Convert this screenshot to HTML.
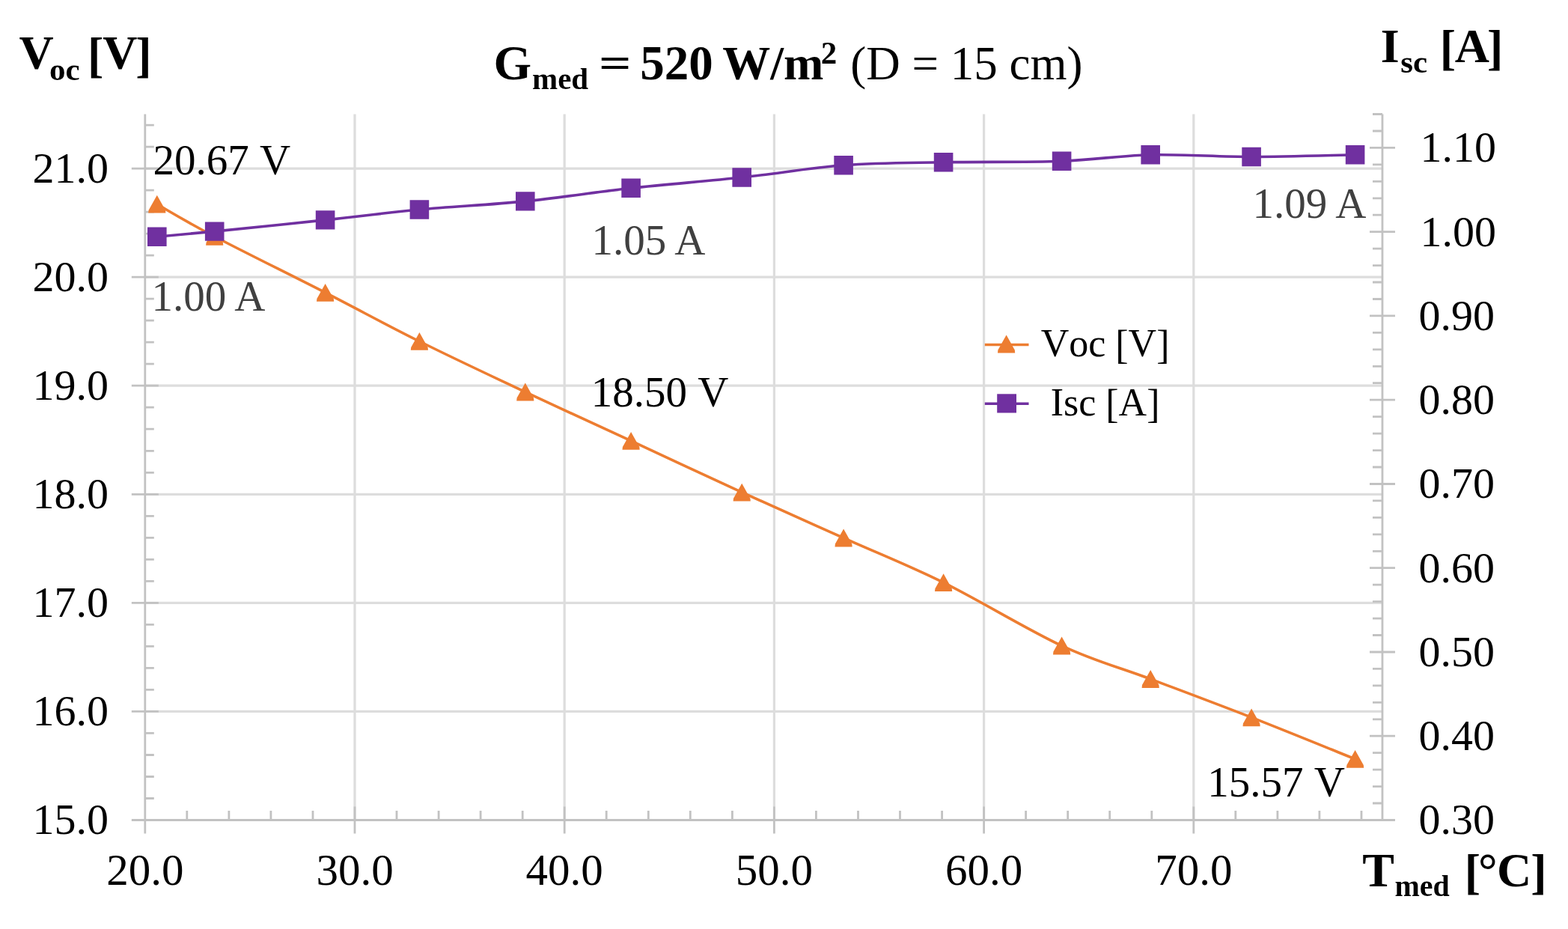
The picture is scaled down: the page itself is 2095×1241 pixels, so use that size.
<!DOCTYPE html><html><head><meta charset="utf-8"><title>Voc and Isc vs temperature</title><style>html,body{margin:0;padding:0;background:#fff;}svg{display:block;}text{font-family:"Liberation Serif","Times New Roman",serif;fill:#000;font-kerning:none;font-feature-settings:"kern" 0;}.b{font-weight:bold;}</style></head><body>
<svg width="2095" height="1241" viewBox="0 0 2095 1241">
<rect width="2095" height="1241" fill="#fff"/>
<path d="M193.8,950.4H1847.0M193.8,805.4H1847.0M193.8,660.3H1847.0M193.8,515.2H1847.0M193.8,370.2H1847.0M193.8,225.1H1847.0M474.0,152.5V1095.5M754.2,152.5V1095.5M1034.4,152.5V1095.5M1314.6,152.5V1095.5M1594.8,152.5V1095.5" stroke="#dddddd" stroke-width="3.2" fill="none"/>
<path d="M193.8,152.5V1113.5M1847.0,152.5V1095.5M175.8,1095.5H1864.0M175.8,1095.5H211.8M193.8,1066.5H205.8M193.8,1037.5H205.8M193.8,1008.5H205.8M193.8,979.4H205.8M175.8,950.4H211.8M193.8,921.4H205.8M193.8,892.4H205.8M193.8,863.4H205.8M193.8,834.4H205.8M175.8,805.4H211.8M193.8,776.3H205.8M193.8,747.3H205.8M193.8,718.3H205.8M193.8,689.3H205.8M175.8,660.3H211.8M193.8,631.3H205.8M193.8,602.3H205.8M193.8,573.2H205.8M193.8,544.2H205.8M175.8,515.2H211.8M193.8,486.2H205.8M193.8,457.2H205.8M193.8,428.2H205.8M193.8,399.2H205.8M175.8,370.2H211.8M193.8,341.1H205.8M193.8,312.1H205.8M193.8,283.1H205.8M193.8,254.1H205.8M175.8,225.1H211.8M193.8,196.1H205.8M193.8,167.1H205.8M193.8,1077.5V1113.5M249.8,1083.0V1095.5M305.9,1083.0V1095.5M361.9,1083.0V1095.5M418.0,1083.0V1095.5M474.0,1077.5V1113.5M530.0,1083.0V1095.5M586.1,1083.0V1095.5M642.1,1083.0V1095.5M698.2,1083.0V1095.5M754.2,1077.5V1113.5M810.2,1083.0V1095.5M866.3,1083.0V1095.5M922.3,1083.0V1095.5M978.4,1083.0V1095.5M1034.4,1077.5V1113.5M1090.4,1083.0V1095.5M1146.5,1083.0V1095.5M1202.5,1083.0V1095.5M1258.6,1083.0V1095.5M1314.6,1077.5V1113.5M1370.6,1083.0V1095.5M1426.7,1083.0V1095.5M1482.7,1083.0V1095.5M1538.8,1083.0V1095.5M1594.8,1077.5V1113.5M1650.8,1083.0V1095.5M1706.9,1083.0V1095.5M1762.9,1083.0V1095.5M1819.0,1083.0V1095.5M1830.0,1095.5H1864.0M1834.0,1073.0H1847.0M1834.0,1050.6H1847.0M1834.0,1028.1H1847.0M1834.0,1005.7H1847.0M1830.0,983.2H1864.0M1834.0,960.8H1847.0M1834.0,938.3H1847.0M1834.0,915.9H1847.0M1834.0,893.4H1847.0M1830.0,871.0H1864.0M1834.0,848.5H1847.0M1834.0,826.1H1847.0M1834.0,803.6H1847.0M1834.0,781.2H1847.0M1830.0,758.7H1864.0M1834.0,736.3H1847.0M1834.0,713.8H1847.0M1834.0,691.4H1847.0M1834.0,668.9H1847.0M1830.0,646.5H1864.0M1834.0,624.0H1847.0M1834.0,601.6H1847.0M1834.0,579.1H1847.0M1834.0,556.7H1847.0M1830.0,534.2H1864.0M1834.0,511.7H1847.0M1834.0,489.3H1847.0M1834.0,466.8H1847.0M1834.0,444.4H1847.0M1830.0,421.9H1864.0M1834.0,399.5H1847.0M1834.0,377.0H1847.0M1834.0,354.6H1847.0M1834.0,332.1H1847.0M1830.0,309.7H1864.0M1834.0,287.2H1847.0M1834.0,264.8H1847.0M1834.0,242.3H1847.0M1834.0,219.9H1847.0M1830.0,197.4H1864.0M1834.0,175.0H1847.0M1834.0,152.5H1847.0" stroke="#c2c2c2" stroke-width="2.8" fill="none"/>
<path d="M209.8,272.8 C222.6,280.0 249.2,296.3 286.7,316.0 C324.2,335.7 389.0,367.6 434.6,390.9 C480.2,414.2 515.9,433.9 560.4,456.0 C604.9,478.1 654.7,501.5 701.8,523.6 C748.9,545.8 794.9,566.5 843.1,588.9 C891.3,611.2 943.9,636.1 991.2,657.7 C1038.5,679.3 1082.2,698.5 1127.1,718.6 C1172.0,738.7 1212.0,754.2 1260.6,778.2 C1309.2,802.2 1372.5,841.1 1418.6,862.6 C1464.7,884.1 1495.0,891.1 1537.2,907.1 C1579.5,923.1 1626.5,940.6 1672.1,958.4 C1717.7,976.2 1787.5,1004.7 1810.6,1014.0" stroke="#ed7d31" stroke-width="3.6" fill="none" stroke-linejoin="round"/>
<path d="M209.8,260.8L221.0,280.8L221.4,284.6L198.2,284.6L198.6,280.8ZM286.7,304.0L297.9,324.0L298.3,327.8L275.1,327.8L275.5,324.0ZM434.6,378.9L445.8,398.9L446.2,402.7L423.0,402.7L423.4,398.9ZM560.4,444.0L571.6,464.0L572.0,467.8L548.8,467.8L549.2,464.0ZM701.8,511.6L713.0,531.6L713.4,535.4L690.2,535.4L690.6,531.6ZM843.1,576.9L854.3,596.9L854.7,600.7L831.5,600.7L831.9,596.9ZM991.2,645.7L1002.4,665.7L1002.8,669.5L979.6,669.5L980.0,665.7ZM1127.1,706.6L1138.3,726.6L1138.7,730.4L1115.5,730.4L1115.9,726.6ZM1260.6,766.2L1271.8,786.2L1272.2,790.0L1249.0,790.0L1249.4,786.2ZM1418.6,850.6L1429.8,870.6L1430.2,874.4L1407.0,874.4L1407.4,870.6ZM1537.2,895.1L1548.4,915.1L1548.8,918.9L1525.6,918.9L1526.0,915.1ZM1672.1,946.4L1683.3,966.4L1683.7,970.2L1660.5,970.2L1660.9,966.4ZM1810.6,1002.0L1821.8,1022.0L1822.2,1025.8L1799.0,1025.8L1799.4,1022.0Z" fill="#ed7d31"/>
<path d="M209.8,316.3 C222.6,315.1 249.2,312.8 286.7,309.1 C324.2,305.4 389.0,298.8 434.6,293.9 C480.2,289.0 515.9,284.2 560.4,280.0 C604.9,275.8 654.7,273.7 701.8,268.9 C748.9,264.1 794.9,256.6 843.1,251.3 C891.3,246.0 943.9,242.1 991.2,237.0 C1038.5,231.9 1082.2,224.2 1127.1,220.8 C1172.0,217.4 1212.0,217.7 1260.6,216.8 C1309.2,215.9 1372.5,216.9 1418.6,215.2 C1464.7,213.5 1495.0,207.8 1537.2,206.8 C1579.5,205.9 1626.5,209.5 1672.1,209.5 C1717.7,209.5 1787.5,207.2 1810.6,206.8" stroke="#7030a0" stroke-width="3.6" fill="none" stroke-linejoin="round"/>
<path d="M197.0,303.6h25.6v25.4h-25.6ZM273.9,296.4h25.6v25.4h-25.6ZM421.8,281.2h25.6v25.4h-25.6ZM547.6,267.3h25.6v25.4h-25.6ZM689.0,256.2h25.6v25.4h-25.6ZM830.3,238.6h25.6v25.4h-25.6ZM978.4,224.3h25.6v25.4h-25.6ZM1114.3,208.1h25.6v25.4h-25.6ZM1247.8,204.1h25.6v25.4h-25.6ZM1405.8,202.5h25.6v25.4h-25.6ZM1524.4,194.1h25.6v25.4h-25.6ZM1659.3,196.8h25.6v25.4h-25.6ZM1797.8,194.1h25.6v25.4h-25.6Z" fill="#7030a0"/>
<text x="145" y="1114.3" font-size="58" text-anchor="end">15.0</text>
<text x="145" y="969.2" font-size="58" text-anchor="end">16.0</text>
<text x="145" y="824.2" font-size="58" text-anchor="end">17.0</text>
<text x="145" y="679.1" font-size="58" text-anchor="end">18.0</text>
<text x="145" y="534.0" font-size="58" text-anchor="end">19.0</text>
<text x="145" y="389.0" font-size="58" text-anchor="end">20.0</text>
<text x="145" y="243.9" font-size="58" text-anchor="end">21.0</text>
<text x="1895.5" y="1114.3" font-size="58">0.30</text>
<text x="1895.5" y="1002.0" font-size="58">0.40</text>
<text x="1895.5" y="889.8" font-size="58">0.50</text>
<text x="1895.5" y="777.5" font-size="58">0.60</text>
<text x="1895.5" y="665.3" font-size="58">0.70</text>
<text x="1895.5" y="553.0" font-size="58">0.80</text>
<text x="1895.5" y="440.7" font-size="58">0.90</text>
<text x="1897.5" y="328.5" font-size="58">1.00</text>
<text x="1897.5" y="216.2" font-size="58">1.10</text>
<text x="193.8" y="1181.5" font-size="59" text-anchor="middle">20.0</text>
<text x="474.0" y="1181.5" font-size="59" text-anchor="middle">30.0</text>
<text x="754.2" y="1181.5" font-size="59" text-anchor="middle">40.0</text>
<text x="1034.4" y="1181.5" font-size="59" text-anchor="middle">50.0</text>
<text x="1314.6" y="1181.5" font-size="59" text-anchor="middle">60.0</text>
<text x="1594.8" y="1181.5" font-size="59" text-anchor="middle">70.0</text>
<text x="204.6" y="232.5" font-size="57" style="fill:#000">20.67 V</text>
<text x="202.5" y="414.5" font-size="57" style="fill:#404040;font-kerning:normal;font-feature-settings:normal">1.00 A</text>
<text x="790.5" y="339.5" font-size="57" style="fill:#404040;font-kerning:normal;font-feature-settings:normal">1.05 A</text>
<text x="789.7" y="542.5" font-size="57" style="fill:#000">18.50 V</text>
<text x="1673.5" y="291.0" font-size="57" style="fill:#404040;font-kerning:normal;font-feature-settings:normal">1.09 A</text>
<text x="1613.3" y="1063.8" font-size="57" style="fill:#000">15.57 V</text>
<path d="M1315.8,460.5H1374.5" stroke="#ed7d31" stroke-width="3.4"/>
<path d="M1344.6,447.6L1355.8,467.6L1356.2,471.4L1333.0,471.4L1333.4,467.6Z" fill="#ed7d31"/>
<path d="M1315.8,539.2H1374.5" stroke="#7030a0" stroke-width="3.4"/>
<path d="M1332.2,526.3h25.8v25.2h-25.8Z" fill="#7030a0"/>
<text x="1390.7" y="476.0" font-size="52">Voc </text>
<text transform="translate(1490.3,479.2) scale(1,1.042)" font-size="52">[</text>
<text x="1507.6" y="476.0" font-size="52">V</text>
<text transform="translate(1545.2,479.2) scale(1,1.042)" font-size="52">]</text>
<text x="1403.7" y="554.8" font-size="52">Isc </text>
<text transform="translate(1477.3,558.0) scale(1,1.042)" font-size="52">[</text>
<text x="1494.6" y="554.8" font-size="52">A</text>
<text transform="translate(1532.2,558.0) scale(1,1.042)" font-size="52">]</text>
<text class="b" x="25.6" y="92.2" font-size="64">V</text>
<text class="b" x="66.0" y="106.9" font-size="43">oc</text>
<text class="b" transform="translate(116.9,96.0) scale(1,1.025)" font-size="64">[</text>
<text class="b" x="137.2" y="92.2" font-size="64">V</text>
<text class="b" transform="translate(181.2,96.0) scale(1,1.025)" font-size="64">]</text>
<text class="b" x="1844.7" y="83.3" font-size="64">I</text>
<text class="b" x="1871.2" y="96.9" font-size="43">sc</text>
<text class="b" transform="translate(1923.8,86.0) scale(1,1.025)" font-size="64">[</text>
<text class="b" x="1943.7" y="83.2" font-size="64">A</text>
<text class="b" transform="translate(1987.0,86.0) scale(1,1.025)" font-size="64">]</text>
<text class="b" x="1820.2" y="1183.6" font-size="64">T</text>
<text class="b" x="1863.5" y="1197.0" font-size="40">med</text>
<text class="b" transform="translate(1956.7,1186.5) scale(1,1.025)" font-size="64">[</text>
<text class="b" x="1975.1" y="1183.6" font-size="64">°</text>
<text class="b" x="1999.9" y="1183.6" font-size="64">C</text>
<text class="b" transform="translate(2045.3,1186.5) scale(1,1.025)" font-size="64">]</text>
<text class="b" x="659.4" y="105.6" font-size="65">G</text>
<text class="b" x="711.0" y="119.0" font-size="41">med</text>
<text class="b" transform="translate(800.1,103.1) scale(1.195,0.88)" x="0" y="0" font-size="64">=</text>
<text class="b" x="855.3" y="105.6" font-size="65">520</text>
<text class="b" x="965.2" y="105.6" font-size="64">W/m</text>
<text class="b" x="1096.8" y="85.3" font-size="43">2</text>
<text x="1136.3" y="105.6" font-size="63">(D = 15 cm)</text>
</svg></body></html>
